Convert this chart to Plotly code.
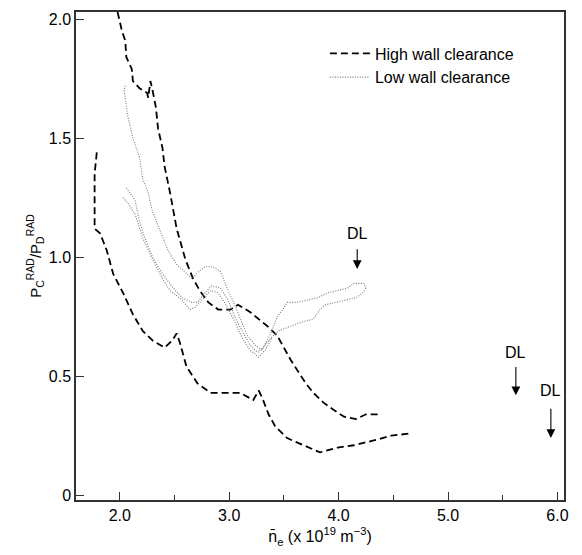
import plotly.graph_objects as go

# High wall clearance - upper dashed curve
high_a_x = [1.98, 2.02, 2.05, 2.06, 2.11, 2.12, 2.18, 2.25, 2.26, 2.28, 2.30, 2.33, 2.35, 2.39, 2.41, 2.46,
            2.52, 2.57, 2.60, 2.67, 2.73, 2.81, 2.90, 3.01, 3.08, 3.19, 3.27, 3.35, 3.44, 3.50, 3.56, 3.63,
            3.70, 3.77, 3.86, 3.95, 4.05, 4.16, 4.25, 4.36]
high_a_y = [2.03, 1.95, 1.91, 1.84, 1.79, 1.74, 1.71, 1.69, 1.67, 1.74, 1.70, 1.63, 1.54, 1.46, 1.38, 1.27,
            1.12, 1.04, 0.99, 0.91, 0.86, 0.81, 0.78, 0.78, 0.80, 0.77, 0.74, 0.71, 0.67, 0.62, 0.57, 0.52,
            0.47, 0.43, 0.39, 0.36, 0.33, 0.32, 0.34, 0.34]

# High wall clearance - lower dashed curve
high_b_x = [1.79, 1.77, 1.77, 1.82, 1.88, 1.94, 2.03, 2.12, 2.21, 2.30, 2.41, 2.48, 2.52, 2.55, 2.61, 2.71,
            2.83, 2.98, 3.10, 3.22, 3.27, 3.31, 3.36, 3.42, 3.53, 3.68, 3.83, 3.99, 4.14, 4.32, 4.48, 4.66]
high_b_y = [1.44, 1.35, 1.12, 1.10, 1.03, 0.93, 0.85, 0.76, 0.69, 0.65, 0.62, 0.65, 0.68, 0.64, 0.54, 0.47,
            0.43, 0.43, 0.43, 0.40, 0.44, 0.40, 0.34, 0.29, 0.24, 0.21, 0.18, 0.20, 0.21, 0.23, 0.25, 0.26]

# Low wall clearance - dotted curves
low_1_x = [2.05, 2.04, 2.07, 2.12, 2.18, 2.21, 2.26, 2.30, 2.37, 2.44, 2.52, 2.61, 2.66, 2.72, 2.78, 2.85,
           2.92, 2.98, 3.06, 3.12, 3.17, 3.24, 3.30, 3.38, 3.44, 3.49, 3.53, 3.62, 3.72, 3.81, 3.90, 3.99,
           4.08, 4.14, 4.17, 4.23, 4.25]
low_1_y = [1.72, 1.70, 1.60, 1.50, 1.42, 1.33, 1.27, 1.19, 1.11, 1.03, 0.97, 0.93, 0.91, 0.94, 0.96, 0.96,
           0.94, 0.87, 0.79, 0.72, 0.67, 0.63, 0.61, 0.68, 0.75, 0.78, 0.81, 0.81, 0.82, 0.83, 0.85, 0.86,
           0.87, 0.89, 0.89, 0.89, 0.87]

low_2_x = [2.06, 2.14, 2.18, 2.23, 2.30, 2.39, 2.49, 2.57, 2.66, 2.71, 2.76, 2.84, 2.92, 2.99, 3.06, 3.13,
           3.19, 3.26, 3.31, 3.38, 3.45, 3.56, 3.68, 3.77, 3.83, 3.88, 4.05, 4.16, 4.22, 4.25]
low_2_y = [1.29, 1.24, 1.15, 1.08, 1.00, 0.93, 0.87, 0.83, 0.81, 0.81, 0.84, 0.88, 0.87, 0.82, 0.74, 0.68,
           0.63, 0.60, 0.62, 0.66, 0.69, 0.71, 0.73, 0.74, 0.78, 0.80, 0.82, 0.83, 0.85, 0.87]

low_3_x = [2.03, 2.07, 2.14, 2.21, 2.29, 2.39, 2.46, 2.57, 2.64, 2.69, 2.75, 2.83, 2.90, 2.97, 3.05, 3.12,
           3.19, 3.27, 3.33, 3.39]
low_3_y = [1.25, 1.23, 1.18, 1.08, 1.00, 0.91, 0.86, 0.82, 0.78, 0.79, 0.82, 0.86, 0.85, 0.80, 0.73, 0.66,
           0.61, 0.58, 0.61, 0.66]

# Density-limit markers: (x, text y, arrow start y, arrow tip y)
dl_x = [4.17, 5.62, 5.94]
dl_text_y = [1.10, 0.60, 0.44]
dl_start_y = [1.04, 0.545, 0.37]
dl_tip_y = [0.95, 0.42, 0.24]

x_ticks = [2.0, 3.0, 4.0, 5.0, 6.0]
x_tick_labels = ["2.0", "3.0", "4.0", "5.0", "6.0"]
y_ticks = [0, 0.5, 1.0, 1.5, 2.0]
y_tick_labels = ["0", "0.5", "1.0", "1.5", "2.0"]

FONT = "Liberation Sans, Arial, Helvetica, sans-serif"
dash_style = dict(color="black", width=1.8, dash="7px,4px")
dot_style = dict(color="#7a7a7a", width=1.1, dash="1px,1.5px")

fig = go.Figure()
fig.add_trace(go.Scatter(x=high_a_x, y=high_a_y, mode="lines", line=dash_style,
                         name="High wall clearance", legendgroup="h"))
fig.add_trace(go.Scatter(x=high_b_x, y=high_b_y, mode="lines", line=dash_style,
                         name="High wall clearance", legendgroup="h", showlegend=False))
fig.add_trace(go.Scatter(x=low_1_x, y=low_1_y, mode="lines", line=dot_style,
                         name="Low wall clearance", legendgroup="l"))
fig.add_trace(go.Scatter(x=low_2_x, y=low_2_y, mode="lines", line=dot_style,
                         name="Low wall clearance", legendgroup="l", showlegend=False))
fig.add_trace(go.Scatter(x=low_3_x, y=low_3_y, mode="lines", line=dot_style,
                         name="Low wall clearance", legendgroup="l", showlegend=False))

for xv, ty, sy, tip in zip(dl_x, dl_text_y, dl_start_y, dl_tip_y):
    fig.add_annotation(x=xv, y=ty, text="DL", showarrow=False,
                       font=dict(family=FONT, size=16, color="black"))
    fig.add_annotation(x=xv, y=tip, ax=xv, ay=sy, axref="x", ayref="y", text="",
                       showarrow=True, arrowhead=2, arrowsize=1.6, arrowwidth=1.1,
                       arrowcolor="black")

axis_common = dict(showline=True, linecolor="#333", linewidth=1.5, mirror=True,
                   ticks="inside", tickcolor="#333", ticklen=8, tickwidth=1,
                   showgrid=False, zeroline=False,
                   tickfont=dict(family=FONT, size=16, color="black"))

fig.update_xaxes(range=[1.6, 6.06], tickvals=x_ticks, ticktext=x_tick_labels,
                 minor=dict(dtick=0.5, tick0=0, ticks="inside", ticklen=5, tickcolor="#333"),
                 title=dict(text="n\u0304<sub>e</sub> (x 10<sup>19</sup> m<sup>\u22123</sup>)",
                            font=dict(family=FONT, size=16, color="black"), standoff=8),
                 **axis_common)
fig.update_yaxes(range=[-0.02, 2.03], tickvals=y_ticks, ticktext=y_tick_labels,
                 title=dict(text="P<sub>C</sub><sup>RAD</sup>/P<sub>D</sub><sup>RAD</sup>",
                            font=dict(family=FONT, size=15, color="black"), standoff=4),
                 **axis_common)

# The page body adds an 8px offset; figure size and margins compensate for it.
fig.update_layout(
    width=574, height=547,
    margin=dict(l=68, r=18, t=2, b=55),
    paper_bgcolor="white", plot_bgcolor="white",
    font=dict(family=FONT, color="black"),
    legend=dict(x=0.51, y=0.95, xanchor="left", yanchor="top",
                bgcolor="rgba(0,0,0,0)", borderwidth=0,
                font=dict(family=FONT, size=16, color="black"),
                tracegroupgap=0, itemwidth=40),
)

fig.write_html("out.html")
